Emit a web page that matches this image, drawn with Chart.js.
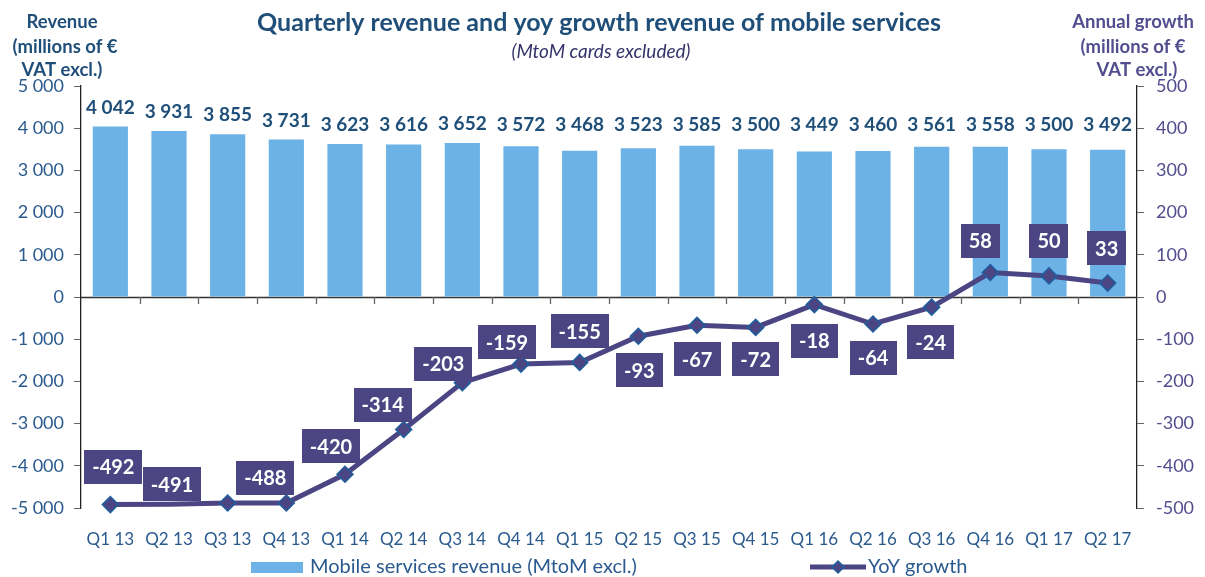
<!DOCTYPE html>
<html>
<head>
<meta charset="utf-8">
<script src="https://cdn.jsdelivr.net/npm/chart.js@4.4.1/dist/chart.umd.min.js"></script>
<style>
html,body{margin:0;padding:0;background:#fff;}
#wrap{width:1205px;height:577px;position:relative;}
</style>
</head>
<body>
<div id="wrap"><canvas id="c" width="1205" height="577"></canvas></div>
<script>
const categories = ['Q1 13','Q2 13','Q3 13','Q4 13','Q1 14','Q2 14','Q3 14','Q4 14','Q1 15','Q2 15','Q3 15','Q4 15','Q1 16','Q2 16','Q3 16','Q4 16','Q1 17','Q2 17'];
const revenue = [4042,3931,3855,3731,3623,3616,3652,3572,3468,3523,3585,3500,3449,3460,3561,3558,3500,3492];
const yoyGrowth = [-492,-491,-488,-488,-420,-314,-203,-159,-155,-93,-67,-72,-18,-64,-24,58,50,33];
const leftTicks = [-5000,-4000,-3000,-2000,-1000,0,1000,2000,3000,4000,5000];
const rightTicks = [-500,-400,-300,-200,-100,0,100,200,300,400,500];

const DARK = '#1F4E79';
const TICK = '#2A5A8E';
const PURPLE = '#4B4683';
const PURPLE_TXT = '#524D8E';
const BAR = '#6CB2E6';
const FONT = 'Lato, "Open Sans", sans-serif';

// label box offsets relative to the point (style, not data)
const lblOffsets = [[3,-38],[3,-20],[0,-30],[-21,-25],[-14,-28],[-21,-25],[-19,-19],[-14,-22],[0,-31],[1,34],[0,34],[0,32],[0,36],[0,34],[-1,35],[-10,-32],[0,-35],[-1,-35]];

function fmt(v){
  const s = Math.abs(v).toString().replace(/\B(?=(\d{3})+(?!\d))/g,' ');
  return (v<0?'-':'') + s;
}

const decor = {
  id:'decor',
  beforeDatasetsDraw(chart){
    const ctx = chart.ctx, ca = chart.chartArea;
    const y0 = chart.scales.y.getPixelForValue(0);
    ctx.save();
    ctx.strokeStyle = '#333';
    ctx.lineWidth = 1.3;
    ctx.beginPath();
    ctx.moveTo(ca.left, y0+0.5); ctx.lineTo(ca.right, y0+0.5);
    ctx.stroke();
    ctx.strokeStyle = '#666';
    ctx.beginPath();
    const n = categories.length, step = (ca.right-ca.left)/n;
    for(let i=1;i<n;i++){
      const x = Math.round(ca.left + i*step)+0.5;
      ctx.moveTo(x, y0); ctx.lineTo(x, y0+7);
    }
    ctx.stroke();
    ctx.restore();
  },
  afterDatasetsDraw(chart){
    const ctx = chart.ctx;
    ctx.save();
    // bar labels
    const bm = chart.getDatasetMeta(0);
    ctx.font = 'bold 19px ' + FONT;
    ctx.fillStyle = DARK;
    ctx.textAlign = 'center';
    ctx.textBaseline = 'middle';
    bm.data.forEach((el,i)=>{
      const y = Math.min(el.y - 19, 125);
      ctx.fillText(fmt(revenue[i]), el.x, y);
    });
    // line labels
    const lm = chart.getDatasetMeta(1);
    ctx.font = 'bold 20px ' + FONT;
    lm.data.forEach((el,i)=>{
      if(i===2) return;
      const t = fmt(yoyGrowth[i]);
      const w = ctx.measureText(t).width + 16;
      const h = 34;
      const cx = el.x + lblOffsets[i][0];
      const cy = el.y + lblOffsets[i][1];
      ctx.fillStyle = PURPLE;
      ctx.fillRect(Math.round(cx-w/2), Math.round(cy-h/2), Math.round(w), h);
      ctx.fillStyle = '#fff';
      ctx.fillText(t, cx, cy+1);
    });
    ctx.restore();
  },
  afterDraw(chart){
    const ctx = chart.ctx;
    ctx.save();
    ctx.textAlign = 'center';
    ctx.textBaseline = 'middle';
    ctx.fillStyle = DARK;
    ctx.font = 'bold 25px ' + FONT;
    ctx.fillText('Quarterly revenue and yoy growth revenue of mobile services', 599, 23);
    ctx.fillStyle = '#35336A';
    ctx.font = 'italic 19px ' + FONT;
    ctx.fillText('(MtoM cards excluded)', 601, 52);
    ctx.fillStyle = DARK;
    ctx.font = 'bold 18.5px ' + FONT;
    ctx.fillText('Revenue', 62, 22);
    ctx.fillText('(millions of €', 65, 47);
    ctx.fillText('VAT excl.)', 62, 70);
    ctx.fillStyle = PURPLE_TXT;
    ctx.fillText('Annual growth', 1133, 22);
    ctx.fillText('(millions of €', 1133, 47);
    ctx.fillText('VAT excl.)', 1137, 70);
    // legend
    ctx.fillStyle = BAR;
    ctx.fillRect(251, 562, 52, 11);
    ctx.textAlign = 'left';
    ctx.font = '20px ' + FONT;
    ctx.fillStyle = TICK;
    ctx.fillText('Mobile services revenue (MtoM excl.)', 310, 567);
    ctx.strokeStyle = PURPLE; ctx.lineWidth = 5;
    ctx.beginPath(); ctx.moveTo(810,567); ctx.lineTo(866,567); ctx.stroke();
    ctx.fillStyle = PURPLE; ctx.strokeStyle = '#1F5F9F'; ctx.lineWidth = 1.5;
    ctx.beginPath(); ctx.moveTo(838,561); ctx.lineTo(844,567); ctx.lineTo(838,573); ctx.lineTo(832,567); ctx.closePath(); ctx.fill(); ctx.stroke();
    ctx.fillStyle = TICK;
    ctx.fillText('YoY growth', 868, 567);
    ctx.restore();
  }
};

new Chart(document.getElementById('c'), {
  data: {
    labels: categories,
    datasets: [
      { type:'bar', label:'Mobile services revenue (MtoM excl.)', data: revenue, backgroundColor: BAR, yAxisID:'y', categoryPercentage:1, barPercentage:0.6, order:2 },
      { type:'line', label:'YoY growth', data: yoyGrowth, yAxisID:'y1', borderColor: PURPLE, borderWidth:5, backgroundColor: PURPLE,
        pointStyle:'rectRot', pointRadius: yoyGrowth.map((v,i)=> i===1 ? 0 : 8), pointHoverRadius:8,
        pointBackgroundColor: PURPLE, pointBorderColor:'#1F5F9F', pointBorderWidth:1.5, tension:0, order:1, clip:false }
    ]
  },
  options: {
    responsive:false,
    animation:false,
    events:[],
    layout:{ padding:{ top:86, bottom:0, left:0, right:0 } },
    plugins:{ legend:{display:false}, title:{display:false}, tooltip:{enabled:false} },
    scales:{
      x:{
        grid:{ display:false, drawTicks:false },
        border:{ display:false },
        ticks:{ color: TICK, font:{ family: FONT, size:17 }, padding:21, maxRotation:0, autoSkip:false },
        afterFit(s){ s.height = 69; }
      },
      y:{
        position:'left', min:-5000, max:5000,
        afterBuildTicks(s){ s.ticks = leftTicks.map(v=>({value:v})); },
        grid:{ drawOnChartArea:false, tickLength:7, color:'#666' },
        border:{ display:true, color:'#222', width:1.3 },
        ticks:{ color: TICK, font:{ family: FONT, size:18 }, padding:10, callback:(v)=>fmt(v) },
        afterFit(s){ s.width = 81; }
      },
      y1:{
        position:'right', min:-500, max:500,
        afterBuildTicks(s){ s.ticks = rightTicks.map(v=>({value:v})); },
        grid:{ drawOnChartArea:false, tickLength:7, color:'#666' },
        border:{ display:true, color:'#222', width:1.3 },
        ticks:{ color: PURPLE_TXT, font:{ family: FONT, size:18 }, padding:12, callback:(v)=>fmt(v) },
        afterFit(s){ s.width = 68; }
      }
    }
  },
  plugins:[decor]
});
</script>
</body>
</html>
